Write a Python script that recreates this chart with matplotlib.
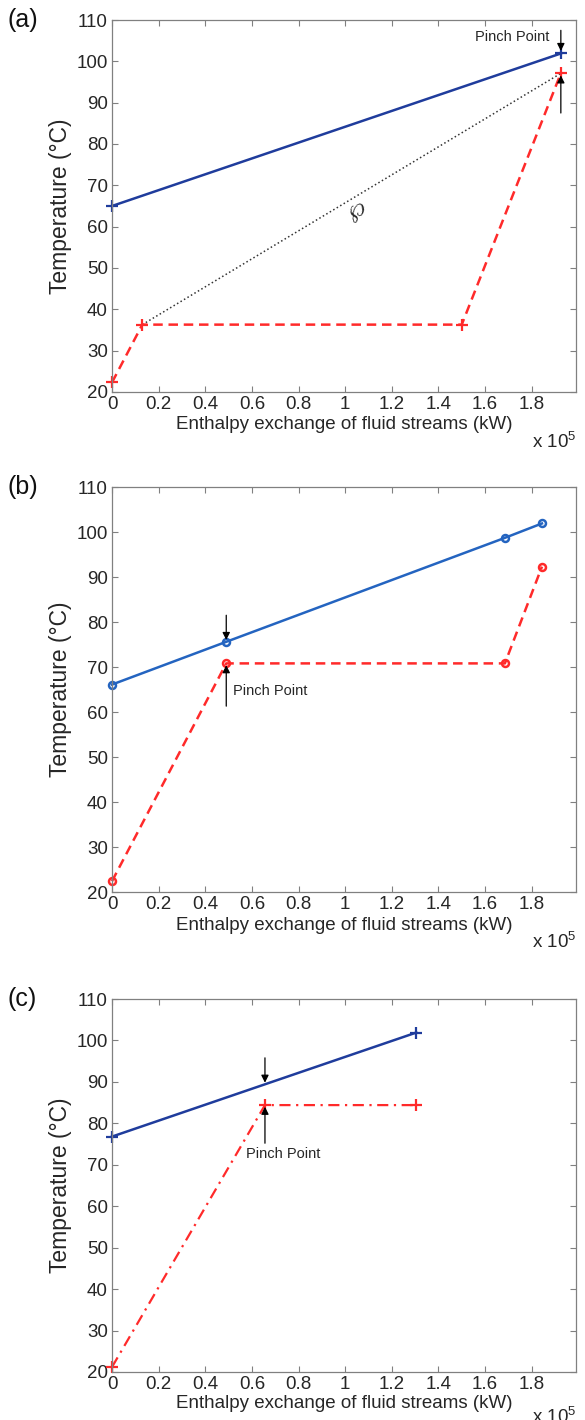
import matplotlib
matplotlib.use("Agg")
import matplotlib.pyplot as plt
import matplotlib.transforms as mtransforms

plt.rcParams['font.family'] = ['Liberation Sans', 'DejaVu Sans']
plt.rcParams['mathtext.fontset'] = 'custom'
plt.rcParams['mathtext.rm'] = 'Liberation Sans'

# ---------------- data ----------------
# panel (a)
a_hot_x = [0, 1.925e5]
a_hot_t = [65.0, 101.9]
a_cold_x = [0, 0.13e5, 1.50e5, 1.925e5]
a_cold_t = [22.3, 36.3, 36.3, 97.1]
a_dot_x = [0.13e5, 1.925e5]
a_dot_t = [36.3, 97.1]

# panel (b)
b_hot_x = [0, 0.49e5, 1.685e5, 1.844e5]
b_hot_t = [66.1, 75.6, 98.7, 101.9]
b_cold_x = [0, 0.49e5, 1.685e5, 1.844e5]
b_cold_t = [22.4, 70.8, 70.8, 92.3]

# panel (c)
c_hot_x = [0, 1.305e5]
c_hot_t = [76.8, 101.9]
c_cold_x = [0, 0.656e5, 1.305e5]
c_cold_t = [21.2, 84.4, 84.4]

xticks = [0, 0.2e5, 0.4e5, 0.6e5, 0.8e5, 1.0e5, 1.2e5, 1.4e5, 1.6e5, 1.8e5]
xticklabels = ['0', '0.2', '0.4', '0.6', '0.8', '1', '1.2', '1.4', '1.6', '1.8']
yticks = [20, 30, 40, 50, 60, 70, 80, 90, 100, 110]

W, H = 585, 1420
fig = plt.figure(figsize=(W / 100, H / 100), dpi=100)

def px_axes(top, bottom, left=112, right=576):
    return fig.add_axes([left / W, 1 - bottom / H, (right - left) / W, (bottom - top) / H])

FS = 13.5
SP = '#808080'
TXT = '#262626'

def style(ax, tag, lbl_off, x10_off):
    ax.set_xlim(0, 1.99e5)
    ax.set_ylim(20, 110)
    ax.set_xticks(xticks)
    ax.set_xticklabels(xticklabels)
    ax.set_yticks(yticks)
    ax.tick_params(direction='in', top=True, right=True, length=4, width=0.8,
                   colors=SP, labelcolor=TXT, labelsize=FS, pad=3)
    for s in ax.spines.values():
        s.set_color(SP)
        s.set_linewidth(0.9)
    ax.set_xlabel('Enthalpy exchange of fluid streams (kW)', fontsize=FS, color=TXT,
                  labelpad=lbl_off)
    ax.set_ylabel('Temperature (\u00b0C)', fontsize=16.5, color=TXT, labelpad=3)
    tr = mtransforms.offset_copy(ax.transAxes, fig=fig, x=0, y=-x10_off, units='dots')
    ax.text(1.0, 0, r'x 10$^{5}$', transform=tr, ha='right', va='center',
            fontsize=FS, color=TXT)
    trt = mtransforms.offset_copy(ax.transAxes, fig=fig, x=-105, y=0, units='dots')
    ax.text(0, 1.0, tag, transform=trt, ha='left', va='center', fontsize=18, color='#111111')

arrow = dict(arrowstyle='-|>', color='black', lw=0.9, mutation_scale=11, shrinkA=0, shrinkB=0)
DASH = (3.8, 2.3)

# ---------------- (a) ----------------
ax = px_axes(20, 392)
ax.plot(a_dot_x, a_dot_t, linestyle=':', color='#333333', lw=1.1)
ax.plot(a_hot_x, a_hot_t, '-+', color='#1f3c9c', lw=1.8, ms=9, mew=1.6, clip_on=False)
ax.plot(a_cold_x, a_cold_t, '--+', color='#ff2a2a', lw=1.8, ms=9, mew=1.6, dashes=DASH,
        clip_on=False)
ax.text(1.05e5, 63.5, r'$\wp$', fontsize=19, ha='center', va='center', rotation=18,
        color='#222222')
ax.annotate('', xy=(a_hot_x[1], a_hot_t[1] + 0.6), xytext=(a_hot_x[1], 107.5), arrowprops=arrow)
ax.annotate('', xy=(a_cold_x[3], a_cold_t[3] - 0.5), xytext=(a_cold_x[3], 87.5), arrowprops=arrow)
ax.text(1.875e5, 105.8, 'Pinch Point', fontsize=10.5, ha='right', va='center', color=TXT)
style(ax, '(a)', 2, 50)

# ---------------- (b) ----------------
ax = px_axes(487, 892)
ax.plot(b_hot_x, b_hot_t, '-o', color='#2464c0', lw=1.8, ms=5, mew=1.8, mfc='none', clip_on=False)
ax.plot(b_cold_x, b_cold_t, '--o', color='#ff2a2a', lw=1.8, ms=5, mew=1.8, mfc='none',
        dashes=DASH, clip_on=False)
ax.annotate('', xy=(b_hot_x[1], b_hot_t[1] + 0.4), xytext=(b_hot_x[1], 81.5), arrowprops=arrow)
ax.annotate('', xy=(b_cold_x[1], b_cold_t[1] - 0.4), xytext=(b_cold_x[1], 61.3), arrowprops=arrow)
ax.text(0.52e5, 64.6, 'Pinch Point', fontsize=10.5, ha='left', va='center', color=TXT)
style(ax, '(b)', 3, 50)

# ---------------- (c) ----------------
ax = px_axes(999, 1372)
ax.plot(c_hot_x, c_hot_t, '-+', color='#1f3c9c', lw=1.8, ms=9, mew=1.6, clip_on=False)
ax.plot(c_cold_x, c_cold_t, '-.+', color='#ff2a2a', lw=1.6, ms=9, mew=1.6,
        dashes=(5, 2.5, 1, 2.5), clip_on=False)
ax.annotate('', xy=(c_cold_x[1], 89.8), xytext=(c_cold_x[1], 95.8), arrowprops=arrow)
ax.annotate('', xy=(c_cold_x[1], c_cold_t[1] - 0.4), xytext=(c_cold_x[1], 75.2), arrowprops=arrow)
ax.text(0.575e5, 72.5, 'Pinch Point', fontsize=10.5, ha='left', va='center', color=TXT)
style(ax, '(c)', 1, 45)

fig.savefig('out.png', dpi=100, facecolor='white')
